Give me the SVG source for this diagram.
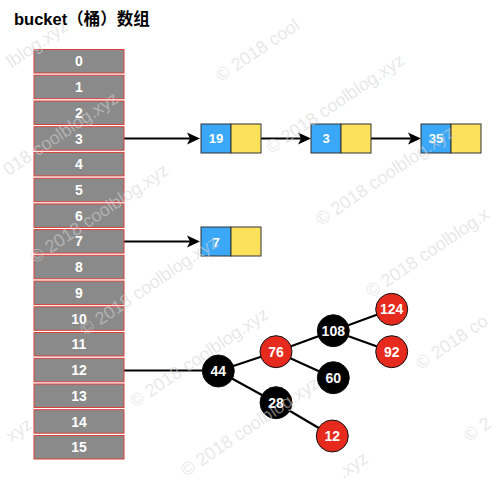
<svg xmlns="http://www.w3.org/2000/svg" width="499" height="484" viewBox="0 0 499 484">
<style>
.cell{fill:#8a8a8a;stroke:#d8403a;stroke-width:1}
.idx{font-family:"Liberation Sans",Arial,sans-serif;font-size:14px;font-weight:bold;fill:#ffffff;text-anchor:middle}
.blue{fill:#3aa8f6;stroke:#333333;stroke-width:1}
.yel{fill:#fbe15c;stroke:#333333;stroke-width:1}
.val{font-family:"Liberation Sans",Arial,sans-serif;font-size:13px;font-weight:bold;fill:#ffffff;text-anchor:middle}
.rb{stroke:#111111;stroke-width:1}
.red{fill:#e62a1e}
.blk{fill:#000000}
.conn{stroke:#000000;stroke-width:2.2;fill:none}
.wm{font-family:"Liberation Sans",Arial,sans-serif;font-size:18px;fill:#d4d4d4;fill-opacity:0.55}
</style>
<defs>
<marker id="ah" markerUnits="userSpaceOnUse" viewBox="-9 -7 16 14" refX="0" refY="0" markerWidth="16" markerHeight="14" orient="auto">
<path d="M5,0 L-8,-6 L-5,0 L-8,6 Z" fill="#000000"/>
</marker>
</defs>
<text x="14" y="25" font-family="'Liberation Sans','Noto Sans CJK SC',sans-serif" font-size="16.5" font-weight="bold" fill="#000000">bucket（桶）数组</text>
<g id="connectors">
<line class="conn" x1="124" y1="138.5" x2="195" y2="138.5" marker-end="url(#ah)"/>
<line class="conn" x1="261" y1="138.5" x2="306" y2="138.5" marker-end="url(#ah)"/>
<line class="conn" x1="371" y1="138.5" x2="416" y2="138.5" marker-end="url(#ah)"/>
<line class="conn" x1="124" y1="241.5" x2="195" y2="241.5" marker-end="url(#ah)"/>
<line class="conn" x1="124" y1="370.5" x2="218" y2="370.5"/>
<line class="conn" x1="218.3" y1="371" x2="276" y2="351.7"/>
<line class="conn" x1="218.3" y1="371" x2="276" y2="402.7"/>
<line class="conn" x1="276" y1="351.7" x2="333.3" y2="330.7"/>
<line class="conn" x1="276" y1="351.7" x2="333.3" y2="377.7"/>
<line class="conn" x1="333.3" y1="330.7" x2="391.7" y2="309.3"/>
<line class="conn" x1="333.3" y1="330.7" x2="391.7" y2="351.7"/>
<line class="conn" x1="276" y1="402.7" x2="332.3" y2="436"/>
</g>
<g id="bucket">
<g id="b0"><rect class="cell" x="34" y="49.5" width="90" height="23.5"/><text class="idx" x="79" y="66.3">0</text></g>
<g id="b1"><rect class="cell" x="34" y="75.2" width="90" height="23.5"/><text class="idx" x="79" y="92">1</text></g>
<g id="b2"><rect class="cell" x="34" y="101" width="90" height="23.5"/><text class="idx" x="79" y="117.8">2</text></g>
<g id="b3"><rect class="cell" x="34" y="126.7" width="90" height="23.5"/><text class="idx" x="79" y="143.5">3</text></g>
<g id="b4"><rect class="cell" x="34" y="152.4" width="90" height="23.5"/><text class="idx" x="79" y="169.2">4</text></g>
<g id="b5"><rect class="cell" x="34" y="178.2" width="90" height="23.5"/><text class="idx" x="79" y="195">5</text></g>
<g id="b6"><rect class="cell" x="34" y="203.9" width="90" height="23.5"/><text class="idx" x="79" y="220.7">6</text></g>
<g id="b7"><rect class="cell" x="34" y="229.6" width="90" height="23.5"/><text class="idx" x="79" y="246.4">7</text></g>
<g id="b8"><rect class="cell" x="34" y="255.3" width="90" height="23.5"/><text class="idx" x="79" y="272.1">8</text></g>
<g id="b9"><rect class="cell" x="34" y="281.1" width="90" height="23.5"/><text class="idx" x="79" y="297.9">9</text></g>
<g id="b10"><rect class="cell" x="34" y="306.8" width="90" height="23.5"/><text class="idx" x="79" y="323.6">10</text></g>
<g id="b11"><rect class="cell" x="34" y="332.5" width="90" height="23.5"/><text class="idx" x="79" y="349.3">11</text></g>
<g id="b12"><rect class="cell" x="34" y="358.3" width="90" height="23.5"/><text class="idx" x="79" y="375.1">12</text></g>
<g id="b13"><rect class="cell" x="34" y="384" width="90" height="23.5"/><text class="idx" x="79" y="400.8">13</text></g>
<g id="b14"><rect class="cell" x="34" y="409.7" width="90" height="23.5"/><text class="idx" x="79" y="426.5">14</text></g>
<g id="b15"><rect class="cell" x="34" y="435.5" width="90" height="23.5"/><text class="idx" x="79" y="452.3">15</text></g>
</g>
<g id="n19"><rect class="blue" x="201" y="124" width="30" height="29"/><rect class="yel" x="231" y="124" width="30" height="29"/><text class="val" x="216" y="143">19</text></g>
<g id="n3"><rect class="blue" x="311" y="124" width="30" height="29"/><rect class="yel" x="341" y="124" width="30" height="29"/><text class="val" x="326" y="143">3</text></g>
<g id="n35"><rect class="blue" x="421" y="124" width="30" height="29"/><rect class="yel" x="451" y="124" width="30" height="29"/><text class="val" x="436" y="143">35</text></g>
<g id="n7"><rect class="blue" x="201" y="227" width="30" height="29"/><rect class="yel" x="231" y="227" width="30" height="29"/><text class="val" x="216" y="246.5">7</text></g>
<g id="t44"><circle class="blk rb" cx="218.3" cy="371" r="16"/><text class="idx" x="218.3" y="376">44</text></g>
<g id="t76"><circle class="red rb" cx="276" cy="351.7" r="16"/><text class="idx" x="276" y="356.7">76</text></g>
<g id="t108"><circle class="blk rb" cx="333.3" cy="330.7" r="16"/><text class="idx" x="333.3" y="335.7">108</text></g>
<g id="t124"><circle class="red rb" cx="391.7" cy="309.3" r="16"/><text class="idx" x="391.7" y="314.3">124</text></g>
<g id="t92"><circle class="red rb" cx="391.7" cy="351.7" r="16"/><text class="idx" x="391.7" y="356.7">92</text></g>
<g id="t60"><circle class="blk rb" cx="333.3" cy="377.7" r="16"/><text class="idx" x="333.3" y="382.7">60</text></g>
<g id="t28"><circle class="blk rb" cx="276" cy="402.7" r="16"/><text class="idx" x="276" y="407.7">28</text></g>
<g id="t12"><circle class="red rb" cx="332.3" cy="436" r="16"/><text class="idx" x="332.3" y="441">12</text></g>
<g id="watermark">
<text class="wm" transform="translate(11.5,68.4) rotate(-34)">lblog.xyz</text>
<text class="wm" transform="translate(8.5,176.2) rotate(-34)">018 coolblog.xyz</text>
<text class="wm" transform="translate(35,264) rotate(-34)">© 2018 coolblog.xyz</text>
<text class="wm" transform="translate(85,336) rotate(-34)">© 2018 coolblog.xyz</text>
<text class="wm" transform="translate(135,408) rotate(-34)">© 2018 coolblog.xyz</text>
<text class="wm" transform="translate(186,477) rotate(-34)">© 2018 coolblog.xyz</text>
<text class="wm" transform="translate(343,479) rotate(-34)">.xyz</text>
<text class="wm" transform="translate(11.2,442.4) rotate(-34)">xyz</text>
<text class="wm" transform="translate(221,82) rotate(-34)">© 2018 cool</text>
<text class="wm" transform="translate(271,154) rotate(-34)">© 2018 coolblog.xyz</text>
<text class="wm" transform="translate(321,226) rotate(-34)">© 2018 coolblog.xyz</text>
<text class="wm" transform="translate(371,298) rotate(-34)">© 2018 coolblog.x</text>
<text class="wm" transform="translate(421,370) rotate(-34)">© 2018 co</text>
<text class="wm" transform="translate(469,442) rotate(-34)">© 2</text>
</g>
</svg>
